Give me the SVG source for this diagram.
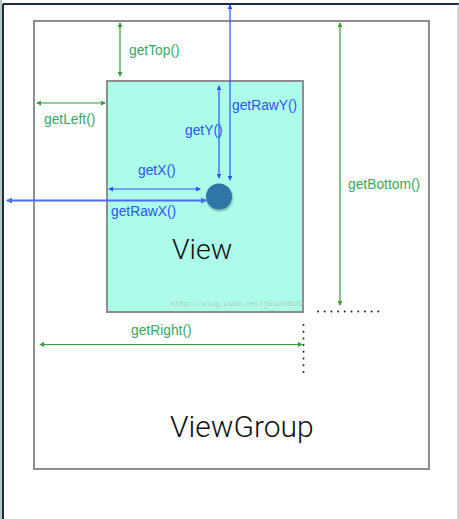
<svg xmlns="http://www.w3.org/2000/svg" width="459" height="519" viewBox="0 0 459 519">
<style>
.g{stroke:#2f9e3a;stroke-width:1.2;fill:none}
.b{stroke:#2b55f0;stroke-width:1.2;fill:none}
.gt{fill:#3aa862;font-family:"Liberation Sans",Arial,sans-serif;font-size:13.8px}
.bt{fill:#2b55f0;font-family:"Liberation Sans",Arial,sans-serif;font-size:13.8px}
.big{fill:#111;font-family:Roboto,"Liberation Sans",sans-serif;font-weight:300}
.dots{stroke:#222;stroke-width:2;stroke-linecap:round;stroke-dasharray:0 6.7;fill:none}
</style>
<defs>
<marker id="ag" viewBox="0 0 6 6" refX="5" refY="3" markerWidth="5" markerHeight="5" markerUnits="userSpaceOnUse" orient="auto-start-reverse"><path d="M0,0 L6,3 L0,6 z" fill="#2f9e3a"/></marker>
<marker id="ab" viewBox="0 0 6 6" refX="5" refY="3" markerWidth="5" markerHeight="5" markerUnits="userSpaceOnUse" orient="auto-start-reverse"><path d="M0,0 L6,3 L0,6 z" fill="#2b55f0"/></marker>
<marker id="ab2" viewBox="0 0 6 6" refX="5" refY="3" markerWidth="6" markerHeight="6" markerUnits="userSpaceOnUse" orient="auto-start-reverse"><path d="M0,0 L6,3 L0,6 z" fill="#4a6ef5"/></marker>
<filter id="sh" x="-30%" y="-30%" width="170%" height="170%"><feDropShadow dx="0.5" dy="1.5" stdDeviation="1.2" flood-color="#000" flood-opacity="0.35"/></filter>
</defs>
<rect x="0" y="0" width="459" height="519" fill="#ffffff"/>
<rect x="0" y="0" width="2" height="519" fill="#b8c8bc"/>
<g id="frame">
<line x1="3" y1="4" x2="3" y2="519" stroke="#1c2a4a" stroke-width="2"/>
<line x1="3" y1="4" x2="459" y2="4" stroke="#1c2a4a" stroke-width="2"/>
<line x1="458" y1="4" x2="458" y2="519" stroke="#b0b0b4" stroke-width="1"/>
</g>
<g id="viewgroup">
<rect x="34" y="21" width="395" height="448" fill="#ffffff" stroke="#8e8e92" stroke-width="2"/>
<text class="big" x="170" y="437" font-size="30">ViewGroup</text>
</g>
<g id="view">
<rect x="107" y="81" width="196" height="231" fill="#adfce9" stroke="#8e8e92" stroke-width="2"/>
<text class="big" x="172" y="259" font-size="28.5">View</text>
<text x="171" y="306" font-family="Liberation Mono,monospace" font-size="7.6" fill="#b9c4c0" textLength="132" lengthAdjust="spacingAndGlyphs">http://blog.csdn.net/jason0539</text>
</g>
<g id="point">
<circle cx="219" cy="196.5" r="13" fill="#2f74a8" filter="url(#sh)"/>
</g>
<g id="connectors">
<line class="g" x1="120" y1="23" x2="120" y2="76" marker-start="url(#ag)" marker-end="url(#ag)"/>
<line class="g" x1="37" y1="103" x2="105" y2="103" marker-start="url(#ag)" marker-end="url(#ag)"/>
<line class="g" x1="340" y1="23" x2="340" y2="305" marker-start="url(#ag)" marker-end="url(#ag)"/>
<line class="g" x1="40" y1="344.5" x2="302" y2="344.5" marker-start="url(#ag)" marker-end="url(#ag)"/>
<line class="b" x1="230" y1="5" x2="230" y2="180" marker-start="url(#ab)" marker-end="url(#ab)"/>
<line class="b" x1="219" y1="86" x2="219" y2="178" marker-start="url(#ab)" marker-end="url(#ab)"/>
<line class="b" x1="109" y1="189" x2="200" y2="189" marker-start="url(#ab)" marker-end="url(#ab)"/>
<line x1="7" y1="200.5" x2="206" y2="200.5" stroke="#4a6ef5" stroke-width="2" marker-start="url(#ab2)" marker-end="url(#ab2)"/>
<line class="dots" x1="318" y1="311.5" x2="383" y2="311.5"/>
<line class="dots" x1="303.5" y1="325" x2="303.5" y2="378"/>
</g>
<g id="labels">
<text class="gt" x="129" y="55">getTop()</text>
<text class="gt" x="44" y="124">getLeft()</text>
<text class="gt" x="348" y="189">getBottom()</text>
<text class="gt" x="131" y="335">getRight()</text>
<text class="bt" x="232" y="110">getRawY()</text>
<text class="bt" x="185" y="135">getY()</text>
<text class="bt" x="138" y="175">getX()</text>
<text class="bt" x="111" y="216">getRawX()</text>
</g>
</svg>
